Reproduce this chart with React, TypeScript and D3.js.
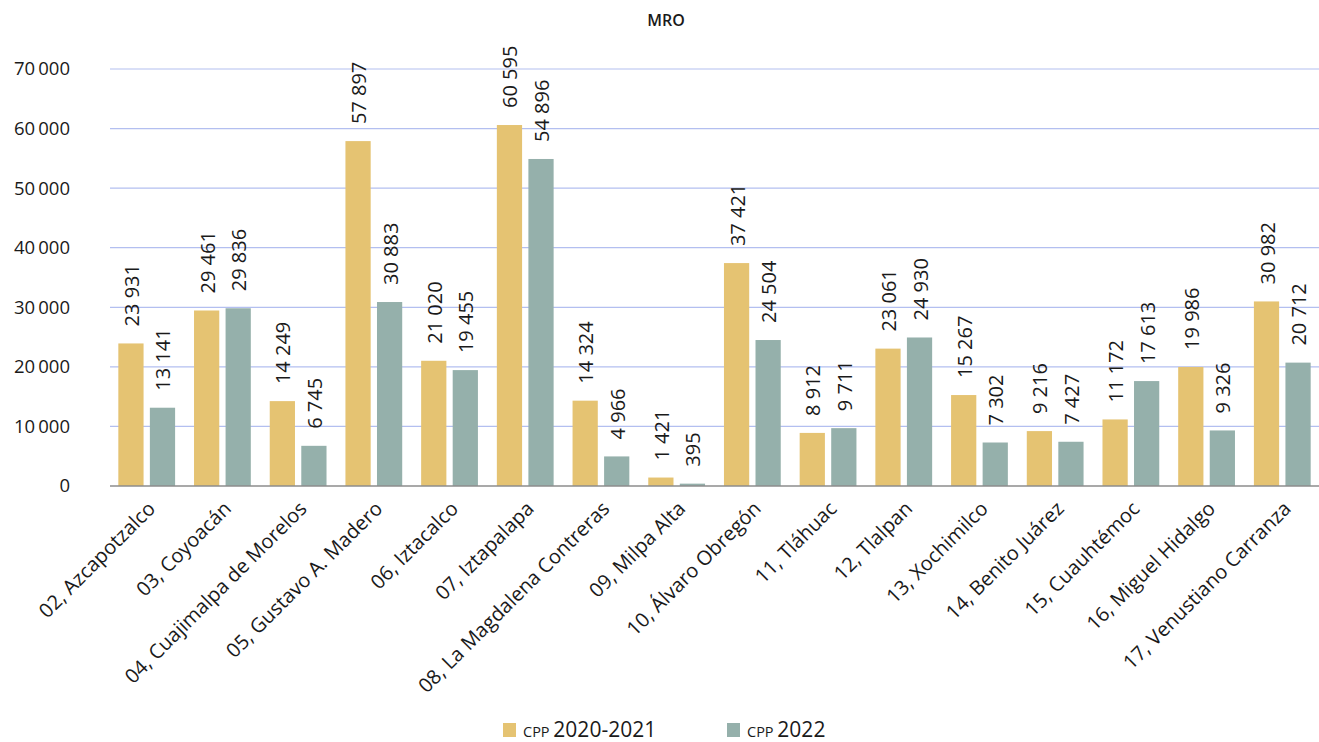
import { useRef, useEffect } from "react";
import * as d3 from "d3";

const categories = [
  "02, Azcapotzalco",
  "03, Coyoacán",
  "04, Cuajimalpa de Morelos",
  "05, Gustavo A. Madero",
  "06, Iztacalco",
  "07, Iztapalapa",
  "08, La Magdalena Contreras",
  "09, Milpa Alta",
  "10, Álvaro Obregón",
  "11, Tláhuac",
  "12, Tlalpan",
  "13, Xochimilco",
  "14, Benito Juárez",
  "15, Cuauhtémoc",
  "16, Miguel Hidalgo",
  "17, Venustiano Carranza",
];
const cpp2020 = [23931, 29461, 14249, 57897, 21020, 60595, 14324, 1421, 37421, 8912, 23061, 15267, 9216, 11172, 19986, 30982];
const cpp2022 = [13141, 29836, 6745, 30883, 19455, 54896, 4966, 395, 24504, 9711, 24930, 7302, 7427, 17613, 9326, 20712];
const yTicks = [0, 10000, 20000, 30000, 40000, 50000, 60000, 70000];
const seriesNames = ["2020-2021", "2022"];
const colors = ["#e5c372", "#95b0ab"];

const W = 1319;
const H = 742;
const FONT = "'Open Sans', 'Noto Sans', sans-serif";

// "23 931" style thousands separator
const fmt = (v: number) => d3.format(",")(v).replace(/,/g, "\u2009");
const fmtLabel = (v: number) => d3.format(",")(v).replace(/,/g, " ");

const App = () => {
  const ref = useRef<SVGSVGElement>(null);

  useEffect(() => {
    if (!ref.current) return;
    const svg = d3.select(ref.current);
    svg.selectAll("*").remove();

    const left = 110;
    const right = 1319;
    const y = d3.scaleLinear().domain([0, 70000]).range([486, 69]);
    const x0 = d3.scaleBand().domain(categories).range([left, right]).paddingInner(0.25).paddingOuter(0.11);
    const x1 = d3.scaleBand().domain(seriesNames).range([0, x0.bandwidth()]).paddingInner(0.2);

    // title
    svg.append("text")
      .attr("x", 666)
      .attr("y", 26)
      .attr("text-anchor", "middle")
      .style("font-family", FONT)
      .style("font-size", "16px")
      .style("font-weight", 600)
      .style("fill", "#1a1a1a")
      .text("MRO");

    // grid
    svg.append("g")
      .selectAll("line")
      .data(yTicks.filter((t) => t > 0))
      .enter()
      .append("line")
      .attr("x1", left)
      .attr("x2", right)
      .attr("y1", (d) => y(d))
      .attr("y2", (d) => y(d))
      .attr("stroke", "#b3bff0")
      .attr("stroke-width", 1.2);

    // y tick labels
    svg.append("g")
      .selectAll("text")
      .data(yTicks)
      .enter()
      .append("text")
      .attr("x", 70)
      .attr("y", (d) => y(d))
      .attr("dy", "0.35em")
      .attr("text-anchor", "end")
      .style("font-family", FONT)
      .style("font-size", "18.5px")
      .style("fill", "#1a1a1a")
      .text((d) => fmt(d));

    const series = [cpp2020, cpp2022];

    // bars
    const groups = svg.append("g")
      .selectAll("g")
      .data(categories)
      .enter()
      .append("g")
      .attr("transform", (d) => `translate(${x0(d)},0)`);

    groups.selectAll("rect")
      .data((_, i) => series.map((s, k) => ({ k, v: s[i] })))
      .enter()
      .append("rect")
      .attr("x", (d) => x1(seriesNames[d.k])!)
      .attr("y", (d) => y(d.v))
      .attr("width", x1.bandwidth())
      .attr("height", (d) => y(0) - y(d.v))
      .attr("fill", (d) => colors[d.k]);

    // value labels (rotated)
    groups.selectAll("text")
      .data((_, i) => series.map((s, k) => ({ k, v: s[i] })))
      .enter()
      .append("text")
      .attr("transform", (d) => `translate(${x1(seriesNames[d.k])! + x1.bandwidth() / 2 + 1},${y(d.v) - 17}) rotate(-90)`)
      .attr("dy", "0.35em")
      .attr("text-anchor", "start")
      .style("font-family", FONT)
      .style("font-size", "20px")
      .style("fill", "#1a1a1a")
      .text((d) => fmtLabel(d.v));

    // baseline
    svg.append("line")
      .attr("x1", left)
      .attr("x2", right)
      .attr("y1", y(0))
      .attr("y2", y(0))
      .attr("stroke", "#8c8c8c")
      .attr("stroke-width", 1.5);

    // x labels
    svg.append("g")
      .selectAll("text")
      .data(categories)
      .enter()
      .append("text")
      .attr("transform", (d) => `translate(${x0(d)! + x0.bandwidth() / 2},${y(0) + 14}) rotate(-45)`)
      .attr("dy", "0.7em")
      .attr("text-anchor", "end")
      .style("font-family", FONT)
      .style("font-size", "20px")
      .style("fill", "#1a1a1a")
      .text((d) => d);

    // legend
    const legendX = [503, 727];
    const legend = svg.append("g")
      .selectAll("g")
      .data(seriesNames)
      .enter()
      .append("g")
      .attr("transform", (_, i) => `translate(${legendX[i]},723)`);
    legend.append("rect")
      .attr("width", 13)
      .attr("height", 14)
      .attr("fill", (_, i) => colors[i]);
    const lt = legend.append("text")
      .attr("x", 20)
      .attr("y", 14)
      .style("font-family", FONT)
      .style("fill", "#1a1a1a");
    lt.append("tspan").style("font-size", "14.5px").text("CPP ");
    lt.append("tspan").style("font-size", "21px").text((d) => d);
  }, []);

  return (
    <svg
      ref={ref}
      width={W}
      height={H}
      style={{ position: "absolute", left: 0, top: 0, background: "#fff" }}
    />
  );
};

export default App;
